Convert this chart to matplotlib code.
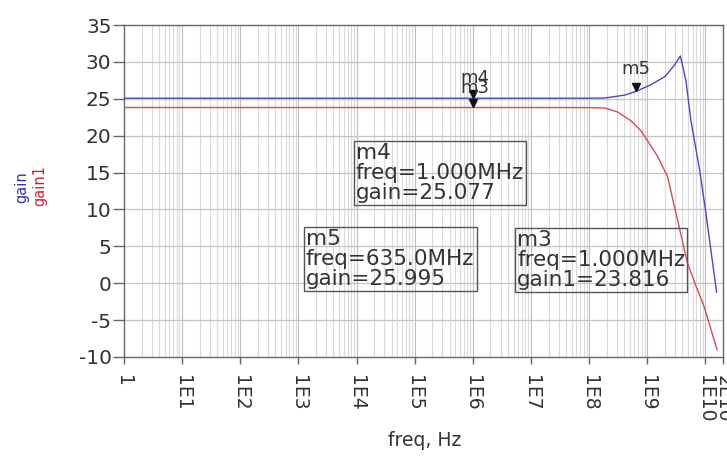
import numpy as np
import matplotlib
matplotlib.use("Agg")
import matplotlib.pyplot as plt
import matplotlib.transforms as mtransforms
from matplotlib.ticker import LogLocator, NullFormatter

plt.rcParams['font.family'] = ['DejaVu Sans']

# gain (blue)
freq_gain = [1, 1e7, 1e8, 1.86e8, 4.1e8, 6.35e8, 1.15e9, 2e9, 2.95e9, 3.7e9, 4.6e9, 5.6e9,
             7.9e9, 1e10, 1.55e10]
gain = [25.077, 25.077, 25.08, 25.1, 25.5, 25.995, 26.9, 28.0, 29.6, 30.8, 27.5, 22.1,
        15.4, 9.9, -1.2]

# gain1 (red)
freq_gain1 = [1, 1e7, 1e8, 1.86e8, 3.1e8, 5.25e8, 7.9e8, 1.5e9, 2.24e9, 2.8e9, 3.55e9,
              4.9e9, 6.8e9, 9.5e9, 1.58e10]
gain1 = [23.816, 23.816, 23.8, 23.75, 23.2, 22.0, 20.6, 17.2, 14.4, 11.0, 7.5,
         2.75, -0.3, -3.2, -9.0]

# markers
m_freq = {'m4': 1e6, 'm3': 1e6, 'm5': 6.35e8}
m_val = {'m4': 25.077, 'm3': 23.816, 'm5': 25.995}

xtick_vals = [1, 1e1, 1e2, 1e3, 1e4, 1e5, 1e6, 1e7, 1e8, 1e9, 1e10, 2e10]
xtick_labels = ['1', '1E1', '1E2', '1E3', '1E4', '1E5', '1E6', '1E7', '1E8', '1E9', '1E10', '2E10']
ytick_vals = [-10, -5, 0, 5, 10, 15, 20, 25, 30, 35]

fig = plt.figure(figsize=(7.27, 4.59), dpi=100)
ax = fig.add_axes([124/727, 102/459, 599/727, 332/459])
ax.set_xscale('log')
ax.set_xlim(1, 2e10)
ax.set_ylim(-10, 35)

# grid
for d in range(0, 11):
    for k in range(1, 10):
        v = k * 10.0**d
        if v <= 1 or v >= 2e10:
            continue
        col = '#bdbdbd' if k == 1 else '#dadada'
        ax.axvline(v, color=col, lw=0.8, zorder=0)
for y in ytick_vals[1:-1]:
    ax.axhline(y, color='#c4c4c4', lw=0.9, zorder=0)

ax.plot(freq_gain, gain, color='#4b4bb4', lw=1.0, zorder=3)
ax.plot(freq_gain1, gain1, color='#d24c5c', lw=1.0, zorder=3)

# marker triangles (tip on the trace) and names
up = mtransforms.ScaledTranslation(0, 3/72, fig.dpi_scale_trans)
for name in ['m4', 'm3', 'm5']:
    ax.plot([m_freq[name]], [m_val[name]], marker='v', color='#111111', ms=6,
            transform=ax.transData + up, zorder=5)
ax.annotate('m4', (m_freq['m4'], m_val['m4']), xytext=(2, 20), textcoords='offset pixels',
            ha='center', va='center', fontsize=13, color='#333333', zorder=6)
ax.annotate('m3', (m_freq['m3'], m_val['m3']), xytext=(2, 20), textcoords='offset pixels',
            ha='center', va='center', fontsize=13, color='#333333', zorder=6)
ax.annotate('m5', (m_freq['m5'], m_val['m5']), xytext=(0, 22), textcoords='offset pixels',
            ha='center', va='center', fontsize=13, color='#333333', zorder=6)

# readout boxes
box = dict(boxstyle='square,pad=0.1', fc='none', ec='#555555', lw=1.0)
ax.text((356-124)/599, (357-143)/332, 'm4\nfreq=1.000MHz\ngain=25.077', transform=ax.transAxes,
        ha='left', va='top', fontsize=15.5, linespacing=1.0, color='#333333', bbox=box, zorder=6)
ax.text((306-124)/599, (357-229)/332, 'm5\nfreq=635.0MHz\ngain=25.995', transform=ax.transAxes,
        ha='left', va='top', fontsize=15.5, linespacing=1.0, color='#333333', bbox=box, zorder=6)
ax.text((517-124)/599, (357-230)/332, 'm3\nfreq=1.000MHz\ngain1=23.816', transform=ax.transAxes,
        ha='left', va='top', fontsize=15.5, linespacing=1.0, color='#333333', bbox=box, zorder=6)

# axes styling
for s in ax.spines.values():
    s.set_color('#666666')
    s.set_linewidth(1.0)
ax.xaxis.set_minor_locator(LogLocator(base=10, subs=[]))
ax.xaxis.set_minor_formatter(NullFormatter())
ax.set_xticks(xtick_vals)
ax.set_xticklabels(xtick_labels, rotation=-90, fontsize=13.5, color='#333333')
ax.set_yticks(ytick_vals)
ax.set_yticklabels([str(v) for v in ytick_vals], fontsize=14.5, color='#333333')
ax.tick_params(axis='x', length=5, width=1, color='#666666', pad=8)
ax.tick_params(axis='y', length=8, width=1, color='#666666', pad=1)
ax.tick_params(which='minor', length=0)

fig.text(425/727, 1 - 440/459, 'freq, Hz', ha='center', va='center', fontsize=13.5, color='#333333')
fig.text(22/727, 1 - 187/459, 'gain', rotation=90, ha='center', va='center', fontsize=10.5, color='#3333aa')
fig.text(40/727, 1 - 185/459, 'gain1', rotation=90, ha='center', va='center', fontsize=10.5, color='#cc2233')

fig.savefig('out.png', dpi=100)
